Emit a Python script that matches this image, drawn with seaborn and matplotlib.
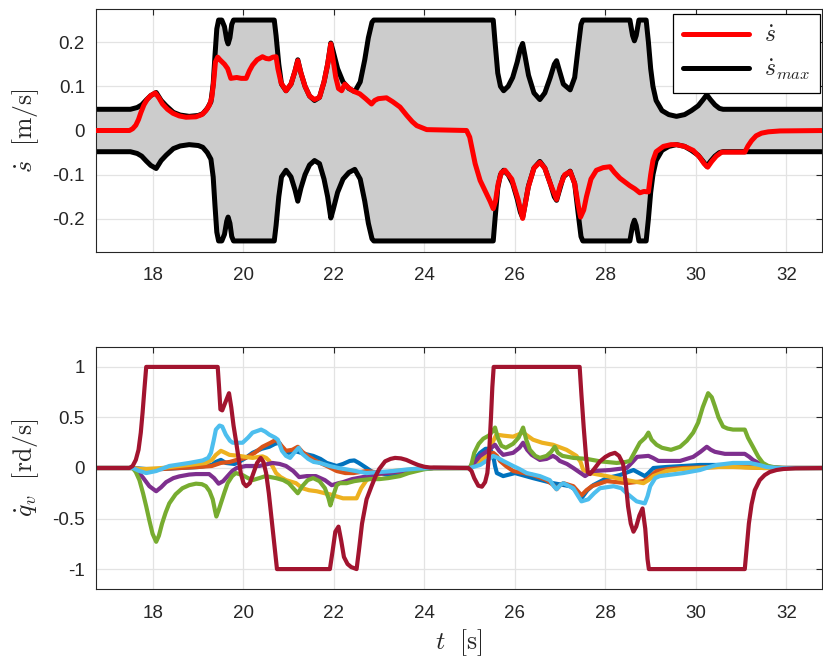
import numpy as np
import pandas as pd
import matplotlib
matplotlib.use("Agg")
import matplotlib.pyplot as plt
import seaborn as sns

# ---------------- data ----------------
X_TICKS = [18, 20, 22, 24, 26, 28, 30, 32]
X_TICK_LABELS = ["18", "20", "22", "24", "26", "28", "30", "32"]
TOP_Y_TICKS = [-0.2, -0.1, 0.0, 0.1, 0.2]
TOP_Y_TICK_LABELS = ["-0.2", "-0.1", "0", "0.1", "0.2"]
BOT_Y_TICKS = [-1.0, -0.5, 0.0, 0.5, 1.0]
BOT_Y_TICK_LABELS = ["-1", "-0.5", "0", "0.5", "1"]

SMAX_T = [16.7, 17.5, 17.65, 17.75, 17.85, 17.95, 18.07, 18.18, 18.29, 18.45, 18.6, 18.8, 19.0, 19.1,
          19.2, 19.28, 19.33, 19.37, 19.41, 19.45, 19.52, 19.58, 19.63, 19.66, 19.7, 19.74, 19.78,
          20.68, 20.72, 20.78, 20.84, 20.94, 21.05, 21.14, 21.2, 21.27, 21.36, 21.46, 21.57, 21.68,
          21.78, 21.86, 21.93, 21.98, 22.08, 22.2, 22.33, 22.46, 22.58, 22.68, 22.76, 22.84, 22.88,
          25.52, 25.56, 25.62, 25.68, 25.75, 25.85, 25.95, 26.05, 26.12, 26.17, 26.22, 26.3, 26.42,
          26.55, 26.66, 26.78, 26.87, 26.92, 26.97, 27.07, 27.22, 27.32, 27.4, 27.46, 27.5,
          28.54, 28.6, 28.64, 28.68, 28.74, 28.9, 28.95, 29.0, 29.05, 29.12, 29.25, 29.4, 29.57,
          29.75, 29.9, 30.05, 30.16, 30.24, 30.32, 30.42, 30.52, 30.6, 32.9]
SMAX_V = [0.048, 0.048, 0.052, 0.058, 0.069, 0.079, 0.086, 0.068, 0.056, 0.041, 0.035, 0.032, 0.034, 0.038,
          0.05, 0.065, 0.105, 0.17, 0.23, 0.25, 0.25, 0.235, 0.205, 0.196, 0.21, 0.24, 0.25,
          0.25, 0.215, 0.15, 0.105, 0.09, 0.105, 0.135, 0.16, 0.13, 0.1, 0.078, 0.068, 0.075,
          0.11, 0.15, 0.198, 0.18, 0.14, 0.11, 0.095, 0.088, 0.11, 0.16, 0.21, 0.245, 0.25,
          0.25, 0.2, 0.13, 0.1, 0.09, 0.1, 0.12, 0.155, 0.185, 0.197, 0.17, 0.125, 0.085,
          0.07, 0.085, 0.12, 0.15, 0.158, 0.14, 0.105, 0.092, 0.12, 0.19, 0.24, 0.25,
          0.25, 0.215, 0.203, 0.215, 0.25, 0.25, 0.2, 0.14, 0.1, 0.068, 0.045, 0.036, 0.032,
          0.036, 0.045, 0.056, 0.07, 0.081, 0.07, 0.058, 0.05, 0.048, 0.048]

SDOT_T = [16.7, 17.48, 17.55, 17.62, 17.68, 17.73, 17.8, 17.87, 17.95, 18.05, 18.13, 18.21, 18.32, 18.44,
          18.58, 18.73, 18.95, 19.08, 19.17, 19.25, 19.3, 19.34, 19.38, 19.43, 19.48, 19.53, 19.58, 19.65,
          19.72, 19.85, 19.95, 20.06, 20.13, 20.2, 20.3, 20.42, 20.5, 20.57, 20.65, 20.72, 20.76, 20.83,
          20.94, 21.05, 21.14, 21.2, 21.27, 21.36, 21.46, 21.57, 21.68, 21.78, 21.86, 21.93, 21.98, 22.04,
          22.1, 22.17, 22.24, 22.33, 22.43, 22.57, 22.7, 22.83, 22.9, 22.98, 23.16, 23.3, 23.46, 23.61,
          23.73, 23.83, 24.05, 24.93, 25.0, 25.06, 25.12, 25.23, 25.37, 25.45, 25.52, 25.57, 25.63, 25.7,
          25.78, 25.93, 26.07, 26.17, 26.23, 26.29, 26.42, 26.55, 26.66, 26.78, 26.92, 27.0, 27.1, 27.22,
          27.32, 27.4, 27.45, 27.52, 27.58, 27.68, 27.8, 27.95, 28.1, 28.2, 28.32, 28.45, 28.54, 28.65,
          28.76, 28.85, 28.95, 29.0, 29.05, 29.12, 29.28, 29.45, 29.57, 29.75, 29.94, 30.08, 30.18, 30.26,
          30.35, 30.45, 30.57, 31.08, 31.15, 31.23, 31.33, 31.45, 31.6, 31.86, 32.9]
SDOT_V = [0.0, 0.0, 0.004, 0.012, 0.025, 0.04, 0.058, 0.07, 0.079, 0.085, 0.074, 0.06, 0.048, 0.039,
          0.033, 0.03, 0.031, 0.036, 0.045, 0.058, 0.075, 0.11, 0.155, 0.166, 0.16, 0.155, 0.15, 0.14,
          0.118, 0.12, 0.118, 0.118, 0.135, 0.148, 0.16, 0.167, 0.163, 0.162, 0.166, 0.167, 0.14, 0.108,
          0.09, 0.105, 0.135, 0.158, 0.13, 0.1, 0.078, 0.07, 0.075, 0.11, 0.15, 0.196, 0.16, 0.12,
          0.095, 0.09, 0.105, 0.096, 0.089, 0.083, 0.072, 0.06, 0.068, 0.072, 0.074, 0.065, 0.053, 0.034,
          0.02, 0.011, 0.002, 0.0, -0.015, -0.045, -0.075, -0.113, -0.143, -0.16, -0.177, -0.16, -0.12, -0.095,
          -0.09, -0.11, -0.156, -0.199, -0.165, -0.13, -0.085, -0.072, -0.085, -0.12, -0.156, -0.125, -0.1, -0.093,
          -0.12, -0.17, -0.196, -0.18, -0.15, -0.11, -0.09, -0.084, -0.082, -0.095, -0.108, -0.118, -0.125, -0.132,
          -0.141, -0.138, -0.139, -0.1, -0.068, -0.048, -0.036, -0.032, -0.032, -0.036, -0.045, -0.06, -0.075, -0.083,
          -0.07, -0.058, -0.049, -0.049, -0.035, -0.023, -0.012, -0.006, -0.003, -0.001, 0.0]

# joint velocities q_v (7 joints)
Q1_T = [16.7, 17.55, 17.85, 18.2, 18.6, 19.0, 19.3, 19.39, 19.5, 19.61, 19.8, 19.9, 20.05, 20.2, 20.4,
        20.57, 20.7, 20.79, 20.9, 21.0, 21.1, 21.2, 21.35, 21.54, 21.7, 21.84, 22.06, 22.2, 22.35, 22.45,
        22.55, 22.72, 22.85, 22.94, 23.24, 23.6, 23.9, 24.2, 25.0, 25.1, 25.23, 25.35, 25.45, 25.52, 25.56,
        25.6, 25.74, 26.0, 26.4, 26.84, 27.22, 27.35, 27.47, 27.6, 27.73, 28.03, 28.32, 28.62, 28.87, 28.95,
        29.06, 29.35, 30.09, 30.82, 31.2, 31.6, 32.9]
Q1_V = [0.0, 0.0, -0.01, -0.01, 0.0, 0.01, 0.03, 0.06, 0.08, 0.05, 0.04, 0.06, 0.1, 0.15, 0.19,
        0.21, 0.24, 0.25, 0.17, 0.15, 0.17, 0.16, 0.14, 0.12, 0.09, 0.05, 0.02, 0.04, 0.07, 0.075,
        0.05, 0.0, -0.04, -0.05, -0.07, -0.03, -0.01, 0.0, 0.0, 0.08, 0.15, 0.19, 0.19, 0.12, 0.02,
        -0.05, -0.08, -0.05, -0.1, -0.15, -0.18, -0.22, -0.3, -0.22, -0.17, -0.1, -0.07, -0.02, -0.08, -0.05,
        0.0, 0.01, 0.03, 0.03, 0.02, 0.0, 0.0]

Q2_T = [16.7, 17.55, 17.85, 18.2, 18.6, 19.0, 19.3, 19.5, 19.7, 19.85, 20.05, 20.25, 20.42, 20.6, 20.72,
        20.8, 20.94, 21.08, 21.2, 21.3, 21.45, 21.6, 21.84, 22.06, 22.25, 22.43, 22.72, 22.9, 23.09, 23.35,
        23.6, 23.9, 24.2, 25.0, 25.15, 25.3, 25.52, 25.6, 25.67, 25.8, 25.96, 26.2, 26.4, 26.7, 26.85,
        26.92, 27.0, 27.07, 27.29, 27.47, 27.58, 27.7, 28.03, 28.47, 28.84, 28.95, 29.13, 29.4, 29.72, 30.5,
        31.0, 31.5, 32.9]
Q2_V = [0.0, 0.0, -0.02, -0.01, 0.0, 0.01, 0.02, 0.05, 0.06, 0.08, 0.1, 0.15, 0.21, 0.25, 0.28,
        0.24, 0.17, 0.18, 0.21, 0.16, 0.11, 0.07, 0.02, -0.03, -0.05, -0.05, -0.03, -0.04, -0.05, -0.04,
        -0.03, -0.01, 0.0, 0.0, 0.06, 0.12, 0.15, 0.12, 0.07, 0.02, -0.03, -0.05, -0.07, -0.12, -0.17,
        -0.21, -0.17, -0.15, -0.18, -0.27, -0.22, -0.18, -0.13, -0.15, -0.13, -0.1, -0.03, -0.01, 0.0, 0.01,
        0.01, 0.0, 0.0]

Q3_T = [16.7, 17.55, 17.7, 17.85, 18.2, 18.58, 18.9, 19.17, 19.3, 19.39, 19.5, 19.6, 19.69, 19.9, 20.2,
        20.42, 20.5, 20.57, 20.65, 20.72, 20.82, 20.94, 21.16, 21.3, 21.45, 21.62, 21.8, 21.91, 22.05, 22.2,
        22.5, 22.6, 22.72, 22.9, 23.09, 23.3, 23.6, 23.9, 24.2, 25.0, 25.15, 25.37, 25.5, 25.59, 25.75,
        25.96, 26.18, 26.4, 26.6, 26.84, 27.14, 27.36, 27.45, 27.51, 27.66, 28.03, 28.47, 28.84, 28.95, 29.06,
        29.35, 29.7, 30.09, 30.5, 30.82, 31.1, 31.5, 32.9]
Q3_V = [0.0, 0.0, -0.01, -0.01, 0.0, 0.02, 0.035, 0.05, 0.08, 0.13, 0.17, 0.15, 0.13, 0.12, 0.1,
        0.115, 0.1, 0.07, 0.01, -0.05, -0.09, -0.12, -0.15, -0.2, -0.22, -0.23, -0.25, -0.26, -0.28, -0.3,
        -0.3, -0.2, -0.12, -0.08, -0.05, -0.03, -0.02, -0.005, 0.0, 0.0, 0.04, 0.12, 0.25, 0.33, 0.32,
        0.31, 0.35, 0.28, 0.25, 0.23, 0.18, 0.12, 0.06, -0.02, -0.05, -0.08, -0.12, -0.15, -0.12, -0.08,
        -0.03, -0.01, 0.0, 0.01, 0.01, 0.005, 0.0, 0.0]

Q4_T = [16.7, 17.55, 17.65, 17.77, 17.92, 18.07, 18.18, 18.29, 18.45, 18.58, 18.8, 18.95, 19.24, 19.35, 19.45,
        19.55, 19.65, 19.75, 19.85, 20.05, 20.35, 20.64, 20.8, 20.94, 21.1, 21.23, 21.4, 21.6, 21.8, 21.95,
        22.1, 22.2, 22.4, 22.72, 22.95, 23.16, 23.4, 23.68, 23.9, 24.2, 25.0, 25.1, 25.23, 25.4, 25.56,
        25.65, 25.74, 25.96, 26.1, 26.18, 26.27, 26.37, 26.55, 26.7, 26.84, 26.92, 26.99, 27.15, 27.29, 27.42,
        27.55, 27.65, 27.73, 28.1, 28.47, 28.6, 28.7, 28.95, 29.05, 29.17, 29.65, 29.94, 30.1, 30.24, 30.33,
        30.42, 30.64, 31.08, 31.18, 31.26, 31.38, 31.48, 31.65, 31.9, 32.9]
Q4_V = [0.0, 0.0, -0.03, -0.09, -0.18, -0.23, -0.19, -0.14, -0.1, -0.083, -0.065, -0.06, -0.06, -0.1, -0.155,
        -0.13, -0.08, -0.03, 0.0, 0.02, 0.02, 0.05, 0.04, 0.02, -0.03, -0.09, -0.08, -0.08, -0.12, -0.17,
        -0.15, -0.14, -0.11, -0.083, -0.06, -0.05, -0.035, -0.02, -0.01, 0.0, 0.0, 0.05, 0.12, 0.17, 0.23,
        0.17, 0.13, 0.15, 0.2, 0.25, 0.18, 0.13, 0.08, 0.09, 0.12, 0.1, 0.07, 0.04, 0.0, -0.04,
        -0.08, -0.05, -0.03, -0.02, 0.0, 0.06, 0.11, 0.12, 0.1, 0.07, 0.07, 0.11, 0.16, 0.21, 0.18,
        0.16, 0.14, 0.14, 0.11, 0.08, 0.05, 0.03, 0.01, 0.0, 0.0]

Q5_T = [16.7, 17.55, 17.62, 17.7, 17.78, 17.85, 17.92, 17.99, 18.07, 18.13, 18.2, 18.28, 18.36, 18.5, 18.65,
        18.8, 18.95, 19.08, 19.17, 19.25, 19.32, 19.37, 19.4, 19.45, 19.5, 19.58, 19.65, 19.75, 19.83, 19.98,
        20.1, 20.2, 20.35, 20.49, 20.6, 20.72, 20.88, 21.0, 21.1, 21.2, 21.3, 21.42, 21.54, 21.68, 21.8,
        21.88, 21.92, 21.98, 22.06, 22.13, 22.28, 22.45, 22.6, 22.8, 23.0, 23.2, 23.46, 23.65, 23.83, 24.0,
        24.2, 25.0, 25.04, 25.1, 25.2, 25.3, 25.42, 25.5, 25.56, 25.62, 25.7, 25.8, 25.96, 26.08, 26.18,
        26.25, 26.33, 26.45, 26.55, 26.7, 26.8, 26.88, 26.95, 27.05, 27.29, 27.59, 27.88, 28.25, 28.45, 28.54,
        28.65, 28.76, 28.88, 28.95, 29.02, 29.13, 29.25, 29.45, 29.65, 29.8, 29.94, 30.05, 30.15, 30.27, 30.35,
        30.42, 30.5, 30.6, 30.7, 30.82, 31.08, 31.15, 31.26, 31.38, 31.48, 31.6, 31.75, 32.0, 32.9]
Q5_V = [0.0, 0.0, -0.04, -0.12, -0.25, -0.38, -0.52, -0.65, -0.73, -0.67, -0.55, -0.44, -0.35, -0.26, -0.2,
        -0.17, -0.155, -0.16, -0.18, -0.23, -0.31, -0.42, -0.48, -0.42, -0.35, -0.24, -0.15, -0.08, -0.05, -0.07,
        -0.1, -0.12, -0.1, -0.08, -0.09, -0.1, -0.12, -0.15, -0.2, -0.25, -0.18, -0.12, -0.1, -0.13, -0.2,
        -0.3, -0.37, -0.28, -0.17, -0.15, -0.15, -0.13, -0.12, -0.11, -0.11, -0.1, -0.08, -0.05, -0.03, -0.012,
        -0.003, 0.0, 0.04, 0.15, 0.24, 0.29, 0.32, 0.36, 0.4, 0.3, 0.22, 0.2, 0.24, 0.3, 0.4,
        0.28, 0.18, 0.12, 0.1, 0.12, 0.16, 0.21, 0.15, 0.12, 0.1, 0.09, 0.066, 0.05, 0.06, 0.07,
        0.16, 0.25, 0.3, 0.35, 0.28, 0.23, 0.2, 0.18, 0.21, 0.27, 0.35, 0.45, 0.6, 0.74, 0.7,
        0.61, 0.5, 0.41, 0.39, 0.38, 0.38, 0.3, 0.21, 0.11, 0.05, 0.02, 0.006, 0.0, 0.0]

Q6_T = [16.7, 17.55, 17.7, 17.85, 18.07, 18.36, 18.8, 19.1, 19.22, 19.28, 19.34, 19.39, 19.47, 19.53, 19.61,
        19.7, 19.76, 19.98, 20.1, 20.2, 20.39, 20.48, 20.57, 20.7, 20.76, 20.85, 20.94, 21.03, 21.12, 21.22,
        21.3, 21.43, 21.55, 21.69, 21.9, 22.1, 22.36, 22.72, 23.0, 23.31, 23.6, 23.9, 24.2, 25.0, 25.23,
        25.4, 25.52, 25.62, 25.74, 25.96, 26.1, 26.26, 26.55, 26.77, 26.86, 26.92, 27.0, 27.07, 27.29, 27.4,
        27.47, 27.62, 27.75, 27.88, 28.18, 28.35, 28.47, 28.69, 28.87, 28.93, 28.99, 29.1, 29.2, 29.72, 30.09,
        30.3, 30.46, 30.82, 31.19, 31.4, 31.56, 31.8, 32.9]
Q6_V = [0.0, 0.0, -0.03, -0.05, -0.03, 0.02, 0.05, 0.075, 0.1, 0.15, 0.27, 0.38, 0.42, 0.41, 0.33,
        0.27, 0.25, 0.25, 0.3, 0.35, 0.38, 0.36, 0.33, 0.3, 0.28, 0.17, 0.12, 0.1, 0.15, 0.2,
        0.14, 0.09, 0.06, 0.05, 0.02, 0.0, -0.02, -0.05, -0.04, -0.03, -0.015, -0.005, 0.0, 0.0, 0.03,
        0.08, 0.12, 0.1, 0.07, 0.02, -0.01, -0.05, -0.08, -0.12, -0.18, -0.21, -0.17, -0.15, -0.2, -0.28,
        -0.33, -0.31, -0.25, -0.2, -0.18, -0.2, -0.25, -0.33, -0.35, -0.28, -0.18, -0.1, -0.08, -0.05, -0.02,
        0.01, 0.03, 0.05, 0.05, 0.03, 0.01, 0.0, 0.0]

Q7_T = [16.7, 17.48, 17.55, 17.62, 17.68, 17.73, 17.77, 17.81, 17.85, 19.43, 19.46, 19.49, 19.53, 19.6, 19.68,
        19.73, 19.78, 19.83, 19.89, 19.94, 20.0, 20.06, 20.14, 20.22, 20.3, 20.38, 20.44, 20.5, 20.56, 20.62,
        20.68, 20.74, 21.91, 21.97, 22.03, 22.1, 22.16, 22.22, 22.3, 22.38, 22.5, 22.55, 22.62, 22.72, 22.83,
        22.92, 23.0, 23.13, 23.25, 23.35, 23.48, 23.6, 23.75, 23.86, 24.0, 24.12, 24.97, 25.04, 25.1, 25.19,
        25.27, 25.34, 25.39, 25.43, 25.47, 25.5, 25.53, 27.43, 27.47, 27.52, 27.57, 27.61, 27.66, 27.75, 27.88,
        28.0, 28.1, 28.21, 28.3, 28.39, 28.45, 28.5, 28.56, 28.62, 28.68, 28.75, 28.82, 28.88, 28.93, 28.96,
        31.08, 31.12, 31.17, 31.23, 31.3, 31.41, 31.52, 31.63, 31.78, 31.93, 32.2, 32.9]
Q7_V = [0.0, 0.0, 0.02, 0.08, 0.18, 0.35, 0.55, 0.78, 1.0, 1.0, 0.8, 0.58, 0.57, 0.65, 0.74,
        0.6, 0.42, 0.28, 0.1, -0.05, -0.15, -0.18, -0.15, -0.05, 0.05, 0.1, 0.06, -0.05, -0.25, -0.5,
        -0.75, -1.0, -1.0, -0.82, -0.63, -0.58, -0.72, -0.88, -0.95, -0.98, -1.0, -0.82, -0.55, -0.31, -0.18,
        -0.08, -0.01, 0.066, 0.09, 0.1, 0.095, 0.08, 0.05, 0.03, 0.012, 0.005, 0.0, -0.03, -0.1, -0.175,
        -0.185, -0.14, -0.05, 0.15, 0.5, 0.8, 1.0, 1.0, 0.72, 0.4, 0.12, -0.04, -0.06, -0.01, 0.066,
        0.11, 0.135, 0.15, 0.12, 0.04, -0.15, -0.38, -0.55, -0.63, -0.58, -0.47, -0.4, -0.6, -0.9, -1.0,
        -1.0, -0.8, -0.55, -0.36, -0.22, -0.12, -0.07, -0.04, -0.02, -0.01, -0.003, 0.0]

Q_SERIES = [(Q1_T, Q1_V), (Q2_T, Q2_V), (Q3_T, Q3_V), (Q4_T, Q4_V), (Q5_T, Q5_V), (Q6_T, Q6_V), (Q7_T, Q7_V)]
Q_COLORS = ["#0072BD", "#D95319", "#EDB120", "#7E2F8E", "#77AC30", "#4DBEEE", "#A2142F"]

LEGEND_LABELS = [r"$\dot{s}$", r"$\dot{s}_{max}$"]
TOP_YLABEL = r"$\dot{s}\ \ [\mathrm{m/s}]$"
BOT_YLABEL = r"$\dot{q}_v\ \ [\mathrm{rd/s}]$"
BOT_XLABEL = r"$t\ \ [\mathrm{s}]$"

XLIM = (16.74, 32.78)
TOP_YLIM = (-0.275, 0.275)
BOT_YLIM = (-1.2, 1.2)

# ---------------- style ----------------
sns.set_style("white")
plt.rcParams["font.family"] = ["Liberation Sans", "DejaVu Sans"]
plt.rcParams["mathtext.fontset"] = "cm"
plt.rcParams["axes.linewidth"] = 0.8

AX_COL = "#262626"
GRID_COL = "#e3e3e3"

W, H = 823, 659
fig = plt.figure(figsize=(W / 100, H / 100), dpi=100)
L, R = 96, 821.7
ax1 = fig.add_axes([L / W, 1 - 252 / H, (R - L) / W, (252 - 9) / H])
ax2 = fig.add_axes([L / W, 1 - 589.3 / H, (R - L) / W, (589.3 - 346.7) / H])


def style_axes(ax, yticks, ylabels):
    ax.set_xlim(*XLIM)
    ax.set_xticks(X_TICKS)
    ax.set_xticklabels(X_TICK_LABELS)
    ax.set_yticks(yticks)
    ax.set_yticklabels(ylabels)
    ax.set_axisbelow(True)
    ax.grid(True, color=GRID_COL, linewidth=0.9)
    for sp in ax.spines.values():
        sp.set_visible(True)
        sp.set_color(AX_COL)
        sp.set_linewidth(0.8)
    ax.tick_params(axis="both", direction="in", top=True, right=True, length=4,
                   width=0.8, color=AX_COL, labelcolor=AX_COL, labelsize=13.5)
    ax.tick_params(axis="x", pad=11)
    ax.tick_params(axis="y", pad=8)


# ---------- top panel ----------
smax_t = np.array(SMAX_T)
smax_v = np.array(SMAX_V)
ax1.fill_between(smax_t, -smax_v, smax_v, color="#cccccc", linewidth=0, zorder=1)
sns.lineplot(x=SMAX_T, y=[-v for v in SMAX_V], ax=ax1, color="black", linewidth=3.6,
             sort=False, estimator=None, legend=False, zorder=2)
sns.lineplot(x=SMAX_T, y=SMAX_V, ax=ax1, color="black", linewidth=3.6,
             sort=False, estimator=None, zorder=2, label=LEGEND_LABELS[1])
sns.lineplot(x=SDOT_T, y=SDOT_V, ax=ax1, color="#ff0000", linewidth=3.6,
             sort=False, estimator=None, zorder=3, label=LEGEND_LABELS[0])
for ln in ax1.get_lines():
    ln.set_solid_joinstyle("round")
ax1.set_ylim(*TOP_YLIM)
style_axes(ax1, TOP_Y_TICKS, TOP_Y_TICK_LABELS)
ax1.set_xlabel("")
ax1.set_ylabel(TOP_YLABEL, fontsize=18.5, color=AX_COL, labelpad=8)

handles, labels = ax1.get_legend_handles_labels()
order = [labels.index(LEGEND_LABELS[0]), labels.index(LEGEND_LABELS[1])]
leg = ax1.legend([handles[i] for i in order], [labels[i] for i in order],
                 loc="upper right", bbox_to_anchor=(0.998, 0.978), borderaxespad=0,
                 fontsize=17, handlelength=2.8, handletextpad=0.6, labelspacing=0.45,
                 borderpad=0.45, fancybox=False, framealpha=1, edgecolor="black")
leg.get_frame().set_linewidth(0.9)

# ---------- bottom panel ----------
for (qt, qv), col in zip(Q_SERIES, Q_COLORS):
    sns.lineplot(x=qt, y=qv, ax=ax2, color=col, linewidth=3.0,
                 sort=False, estimator=None, legend=False)
for ln in ax2.get_lines():
    ln.set_solid_joinstyle("round")
ax2.set_ylim(*BOT_YLIM)
style_axes(ax2, BOT_Y_TICKS, BOT_Y_TICK_LABELS)
ax2.set_ylabel(BOT_YLABEL, fontsize=18.5, color=AX_COL, labelpad=8)
ax2.set_xlabel(BOT_XLABEL, fontsize=18.5, color=AX_COL, labelpad=4)

fig.savefig("out.png", dpi=100)
